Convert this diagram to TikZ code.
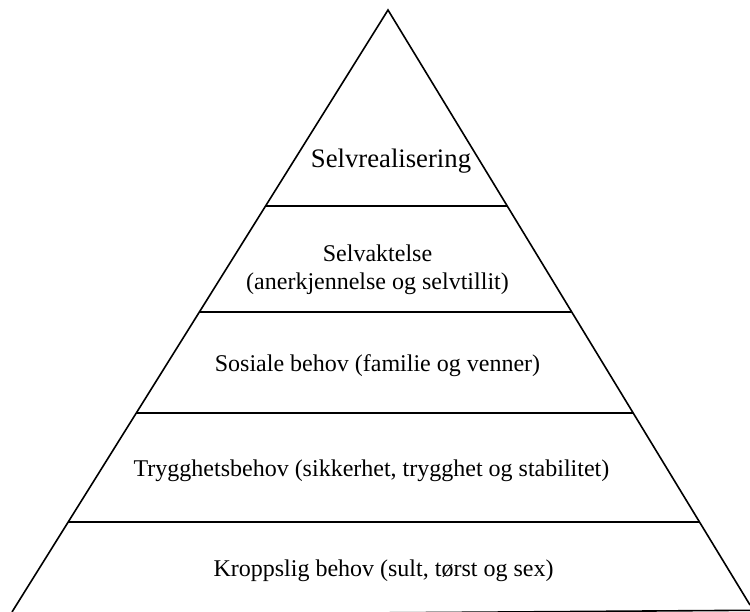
\documentclass[tikz,border=0pt]{standalone}
\usepackage{fontspec}
\setmainfont{Liberation Serif}
\usetikzlibrary{calc}
\begin{document}
\begin{tikzpicture}[x=1pt,y=-1pt,
  edge/.style={line width=1.6pt,black},
  lbl/.style={anchor=base,inner sep=0pt,font=\fontsize{24}{27.6}\selectfont},
  toplbl/.style={anchor=base,inner sep=0pt,font=\fontsize{26.7}{30}\selectfont}]
\useasboundingbox (0,0) rectangle (750,612);
\coordinate (T) at (388,10);
\coordinate (L) at (12,612);
\coordinate (R) at (750,605);
\coordinate (BL) at (0,615.5);
\coordinate (BR) at (750,610.3);
\draw[edge,line join=miter] (L) -- (T) -- (R);
\begin{scope}
\clip (0,0) rectangle (750,612);
\draw[edge] (BL) -- (BR);
\end{scope}
\foreach \yy/\nm in {206/a,312/b,413/c,522/d}{
  \coordinate (l\nm) at ($(T)!{(\yy-10)/602}!(L)$);
  \coordinate (r\nm) at ($(T)!{(\yy-10)/595}!(R)$);
  \draw[edge] (l\nm) -- (r\nm);
}
\node[toplbl] (n1) at (391,168) {Selvrealisering};
\node[lbl] (n2) at (377.5,262) {Selvaktelse};
\node[lbl] (n2b) at (377.5,290) {(anerkjennelse og selvtillit)};
\node[lbl] (n3) at (377.5,371) {Sosiale behov (familie og venner)};
\node[lbl] (n4) at (371.5,476) {Trygghetsbehov (sikkerhet, trygghet og stabilitet)};
\node[lbl] (n5) at (383.5,576) {Kroppslig behov (sult, tørst og sex)};
\end{tikzpicture}
\end{document}
